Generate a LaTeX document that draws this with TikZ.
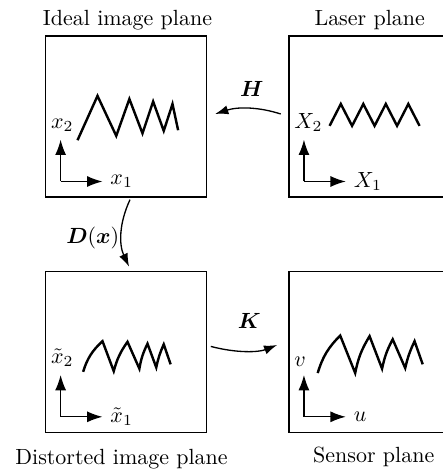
\documentclass[tikz,border=0pt]{standalone}
\usepackage{amsmath}
\usetikzlibrary{arrows.meta, positioning}
\tikzset{
  every picture/.style={line width=0.6pt},
  plane/.style={draw, rectangle, minimum size=2.576cm, inner sep=0pt},
  axisarrow/.style={-{Latex[length=7pt, width=5pt]}},
  conn/.style={-{Latex[length=6pt, width=4.2pt]}},
  wave/.style={line width=1.1pt},
  title/.style={anchor=base},
}

\begin{document}
\begin{tikzpicture}[x=1cm, y=1cm]
  \useasboundingbox (0,0) rectangle (7.072,7.584);
  \newcommand{\planeaxes}[3]{% box name, x label, y label
    \begin{scope}[shift={(#1.center)}]
      \coordinate (#1-o) at (-1.05,-1.04);
      \coordinate (#1-x) at (-0.38,-1.04);
      \coordinate (#1-y) at (-1.05,-0.37);
      \draw[axisarrow] (#1-o) -- (#1-x);
      \draw[axisarrow] (#1-o) -- (#1-y);
      \node[anchor=west] (#1-xlab) at (#1-x) {#2};
      \node[anchor=south west] (#1-ylab) at (-1.33,-0.37) {#3};
    \end{scope}
  }
  % the four planes
  \node[plane] (ideal) at (2.02,5.72) {};
  \node[plane, right=1.296cm of ideal] (laser) {};
  \node[plane, below=1.168cm of ideal] (distorted) {};
  \node[plane, right=1.296cm of distorted] (sensor) {};
  \planeaxes{ideal}{$x_1$}{$x_2$}
  \planeaxes{laser}{$X_1$}{$X_2$}
  \planeaxes{distorted}{$\tilde{x}_1$}{$\tilde{x}_2$}
  \planeaxes{sensor}{$u$}{$v$}
  % patterns
  \draw[wave, shift={(laser.center)}] (-0.64,-0.15)
    \foreach \i in {1,...,4} { -- ++(0.18,0.35) -- ++(0.18,-0.35) };
  \draw[wave, shift={(ideal.center)}] (-0.78,-0.38) -- (-0.46,0.33) -- (-0.16,-0.31)
    -- (0.05,0.28) -- (0.26,-0.27) -- (0.43,0.24) -- (0.60,-0.23) -- (0.74,0.20) -- (0.83,-0.22);
  \draw[wave, shift={(distorted.center)}] (-0.69,-0.32) to[bend left=15] (-0.38,0.17)
    -- (-0.20,-0.31) to[bend left=10] (0.02,0.16) -- (0.21,-0.27) to[bend left=8] (0.34,0.13)
    -- (0.48,-0.25) to[bend left=6] (0.60,0.12) -- (0.71,-0.20);
  \draw[wave, shift={(sensor.center)}] (-0.83,-0.34) to[bend left=14] (-0.47,0.26)
    -- (-0.23,-0.34) to[bend left=10] (0.00,0.25) -- (0.20,-0.27) to[bend left=8] (0.37,0.20)
    -- (0.57,-0.26) to[bend left=6] (0.72,0.17) -- (0.85,-0.20);
  % mappings
  \draw[conn, shorten <=0.13cm, shorten >=0.13cm] (laser.west) to[bend right=18] (ideal.east);
  \node (Hlab) at (4.03,6.165) {$\boldsymbol{H}$};
  \draw[conn, shorten <=1pt, shorten >=2pt] ([xshift=0.075cm]ideal.south) to[bend right=25] ([xshift=0.075cm]distorted.north);
  \node (Dlab) at (1.485,3.77) {$\boldsymbol{D}(\boldsymbol{x})$};
  \draw[conn, shorten <=1.6pt, shorten >=5.5pt] ([yshift=0.10cm]distorted.east) to[bend right=18] ([yshift=0.18cm]sensor.west);
  \node (Klab) at (3.99,2.453) {$\boldsymbol{K}$};
  % titles
  \node[title] (idealtitle) at (2.04,7.18) {Ideal image plane};
  \node[title] (lasertitle) at (5.915,7.18) {Laser plane};
  \node[title] (distortedtitle) at (1.944,0.155) {Distorted image plane};
  \node[title] (sensortitle) at (5.98,0.19) {Sensor plane};
\end{tikzpicture}
\end{document}
